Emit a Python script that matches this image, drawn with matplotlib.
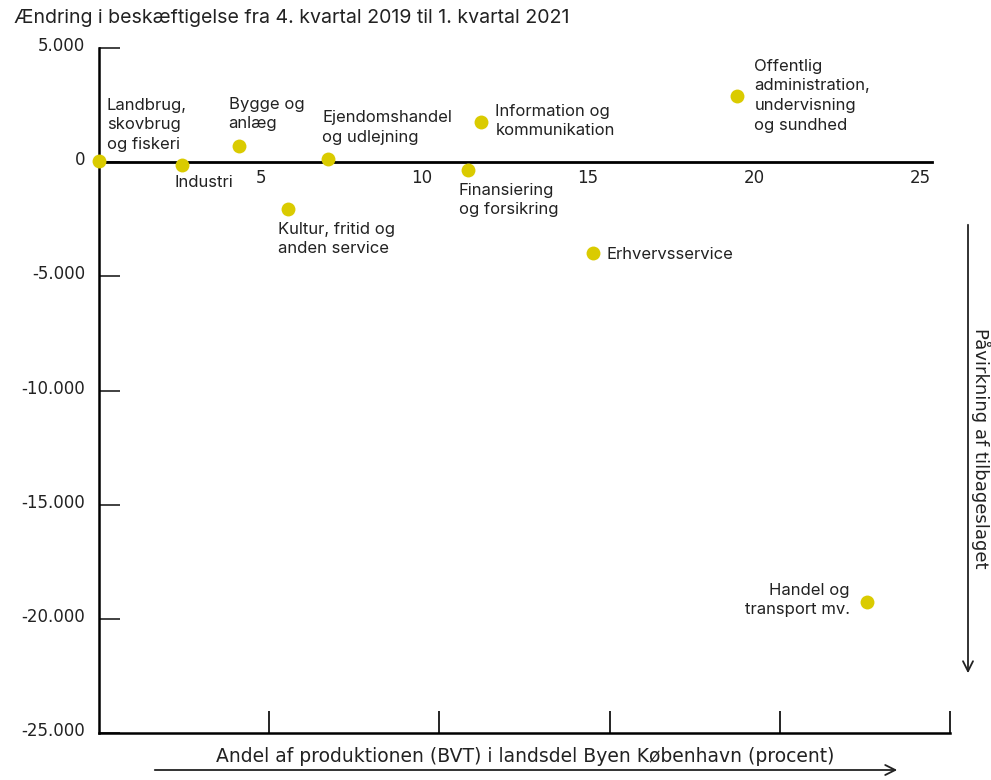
import numpy as np
import matplotlib
matplotlib.use("Agg")
import matplotlib.pyplot as plt
from matplotlib.transforms import ScaledTranslation

# data: share of production (pct) vs change in employment
sectors = ["Landbrug,\nskovbrug\nog fiskeri", "Industri", "Bygge og\nanlæg",
           "Ejendomshandel\nog udlejning", "Kultur, fritid og\nanden service",
           "Finansiering\nog forsikring", "Information og\nkommunikation",
           "Erhvervsservice", "Offentlig\nadministration,\nundervisning\nog sundhed",
           "Handel og\ntransport mv."]
share = [0.0, 2.5, 4.2, 6.9, 5.7, 11.1, 11.5, 14.85, 19.2, 23.1]
change = [50, -150, 700, 150, -2050, -350, 1750, -4000, 2900, -19250]

y_ticks = [5000, 0, -5000, -10000, -15000, -20000, -25000]
y_labels = ["5.000", "0", "-5.000", "-10.000", "-15.000", "-20.000", "-25.000"]
x_ticks = [5, 10, 15, 20, 25]

# label placement (pixels from dot) and alignment
offsets = [(8, 36), (-8, -17), (-10, 32), (-6, 31), (-10, -30),
           (-9, -30), (14, 1), (14, -1), (17, 0), (-17, 2)]
aligns = ["left"] * 9 + ["right"]

dot_color = "#DACB00"
lab_font = "Inter"

fig = plt.figure(figsize=(9.91, 7.80), dpi=100)
ax = fig.add_axes([99 / 991, 1 - 733.4 / 780, (950 - 99) / 991, (733.4 - 47.7) / 780])

xmax = 25.6
ax.set_xlim(0, xmax)
ax.set_ylim(-25000, 5000)

for s in ["top", "right"]:
    ax.spines[s].set_visible(False)
ax.spines["left"].set_linewidth(1.8)
ax.spines["bottom"].set_linewidth(1.8)

ax.set_xticks(np.linspace(0, xmax, 6)[1:])
ax.tick_params(axis="x", direction="in", length=16, width=1.2, labelbottom=False)
ax.set_yticks(y_ticks)
ax.set_yticklabels(y_labels)
ax.tick_params(axis="y", direction="in", length=15, width=1.3, color="#333333",
               pad=10, labelsize=12, labelcolor="#222222")
# y labels sit a little above their ticks
for lbl in ax.get_yticklabels():
    lbl.set_transform(lbl.get_transform() + ScaledTranslation(0, 0.04, fig.dpi_scale_trans))

# horizontal line at zero with its own labels
ax.plot([0, 25.05], [0, 0], color="black", lw=2, clip_on=False, zorder=2)
for v in x_ticks:
    ax.annotate(str(v), (v, 0), xytext=(1, -7), textcoords="offset pixels",
                ha="right", va="top", fontsize=12, color="#222222")

ax.scatter(share, change, s=100, color=dot_color, linewidths=0, zorder=3, clip_on=False)

for name, xv, yv, off, ha in zip(sectors, share, change, offsets, aligns):
    ax.annotate(name, (xv, yv), xytext=off, textcoords="offset pixels",
                ha=ha, va="center", fontsize=12, family=lab_font,
                color="#222222", linespacing=1.38)

fig.text(14 / 991, 1 - 18 / 780, "Ændring i beskæftigelse fra 4. kvartal 2019 til 1. kvartal 2021",
         ha="left", va="center", fontsize=14.1, family=lab_font, color="#222222")

# axis direction arrows
ax.annotate("", xy=(900, 780 - 770), xytext=(152, 780 - 770), xycoords="figure pixels",
            textcoords="figure pixels",
            arrowprops=dict(arrowstyle="->", lw=1.3, color="#222222", mutation_scale=18))
fig.text(525 / 991, 1 - 757 / 780,
         "Andel af produktionen (BVT) i landsdel Byen København (procent)",
         ha="center", va="center", fontsize=13.5, color="#222222")

ax.annotate("", xy=(968, 780 - 676), xytext=(968, 780 - 222), xycoords="figure pixels",
            textcoords="figure pixels",
            arrowprops=dict(arrowstyle="->", lw=1.3, color="#222222", mutation_scale=18))
fig.text(981 / 991, 1 - 448 / 780, "Påvirkning af tilbageslaget", rotation=-90,
         ha="center", va="center", fontsize=13, color="#222222")

fig.savefig("out.png", dpi=100)
